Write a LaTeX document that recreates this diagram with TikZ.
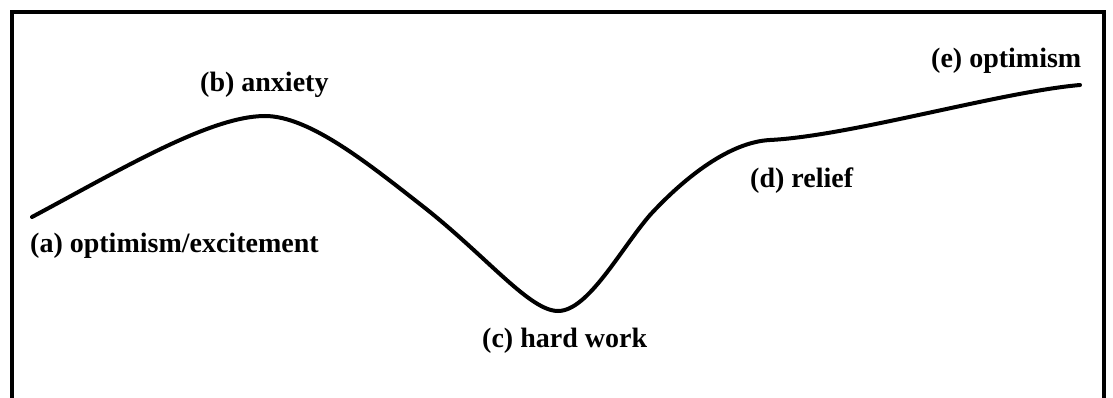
\documentclass[tikz,border=0pt]{standalone}
\usepackage{fontspec}
\setmainfont{Liberation Serif}
\usepackage{tikz}

\begin{document}
\begin{tikzpicture}[x=1pt,y=-1pt,frame/.style={line width=4pt},mood/.style={line width=4pt,line cap=round},lbl/.style={font=\fontsize{28}{33}\selectfont\bfseries,inner sep=0pt,anchor=base west}]
\useasboundingbox (0,0) rectangle (1113,398);
\draw[frame] (12,398) -- (12,12) -- (1104,12) -- (1104,398);
% the mood curve
\coordinate (pa) at (32,217);
\coordinate (pb) at (265,116);
\coordinate (pc) at (558,311);
\coordinate (pd) at (770,140);
\coordinate (pe) at (1080,85);
\draw[mood] (pa) .. controls (120,170) and (210,116) .. (pb)
   .. controls (310,116) and (370,165) .. (425,208)
   .. controls (488,258) and (530,311) .. (pc)
   .. controls (588,311) and (620,250) .. (650,215)
   .. controls (685,177) and (730,142) .. (pd)
   .. controls (850,136) and (1000,92) .. (pe);
\node[lbl] (a) at (30,252) {(a) optimism/excitement};
\node[lbl] (b) at (200,92) {(b) anxiety};
\node[lbl] (c) at (482,347) {(c) hard work};
\node[lbl] (d) at (750,188) {(d) relief};
\node[lbl] (e) at (931,68) {(e) optimism};
\end{tikzpicture}
\end{document}
